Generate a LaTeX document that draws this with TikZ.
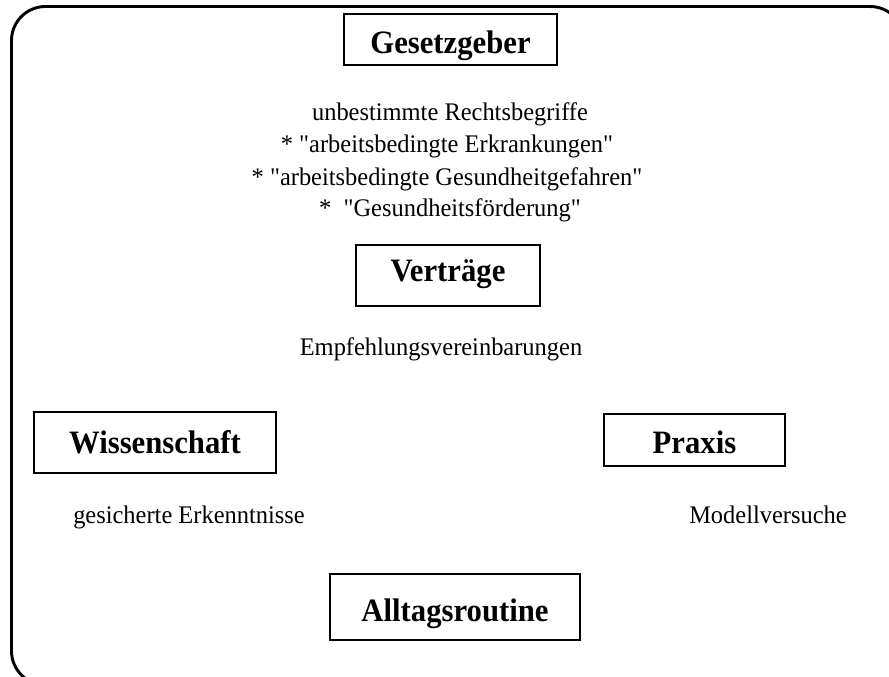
\documentclass[tikz,border=0pt]{standalone}
\usepackage{fontspec}
\newfontfamily\titlefont[FakeStretch=0.94]{Liberation Serif Bold}
\newfontfamily\bodyfont[FakeStretch=0.965]{Liberation Serif}
\begin{document}
\begin{tikzpicture}[x=0.75pt,y=-0.75pt,
  titlebox/.style={draw,line width=1.5pt,font=\fontsize{24.5}{26}\titlefont,inner sep=0pt,text depth=0pt,anchor=center},
  plain/.style={font=\fontsize{19}{24}\bodyfont,inner sep=0pt,anchor=base}]
\useasboundingbox (0,0) rectangle (889,677);
\begin{scope}
\clip (0,0) rectangle (889,677);
\draw[line width=2.2pt,rounded corners=25.5pt] (11.5,6.5) rectangle (904,685);
\end{scope}
\node[titlebox,minimum width=213*0.75pt,minimum height=51*0.75pt,text height=20pt] (gesetz) at (450.5,40) {Gesetzgeber};
\node[plain] (b1) at (450,121) {unbestimmte Rechtsbegriffe};
\node[plain] (b2) at (447,153) {* "arbeitsbedingte Erkrankungen"};
\node[plain] (b3) at (447,185.5) {* "arbeitsbedingte Gesundheitgefahren"};
\node[plain] (b4) at (450,217) {*\ \ "Gesundheitsförderung"};
\node[titlebox,minimum width=184*0.75pt,minimum height=61*0.75pt,text height=8.9pt] (vertraege) at (448,276) {Verträge};
\node[plain] (empf) at (441,355) {Empfehlungsvereinbarungen};
\node[titlebox,minimum width=242*0.75pt,minimum height=61*0.75pt,text height=16.7pt] (wiss) at (155,442.2) {Wissenschaft};
\node[titlebox,minimum width=181*0.75pt,minimum height=52*0.75pt,text height=20pt] (praxis) at (694.5,440) {Praxis};
\node[plain] (erk) at (189,523) {gesicherte Erkenntnisse};
\node[plain] (modell) at (768,523) {Modellversuche};
\node[titlebox,minimum width=250*0.75pt,minimum height=66*0.75pt,text height=22pt] (alltag) at (455,607) {Alltagsroutine};
\end{tikzpicture}
\end{document}
